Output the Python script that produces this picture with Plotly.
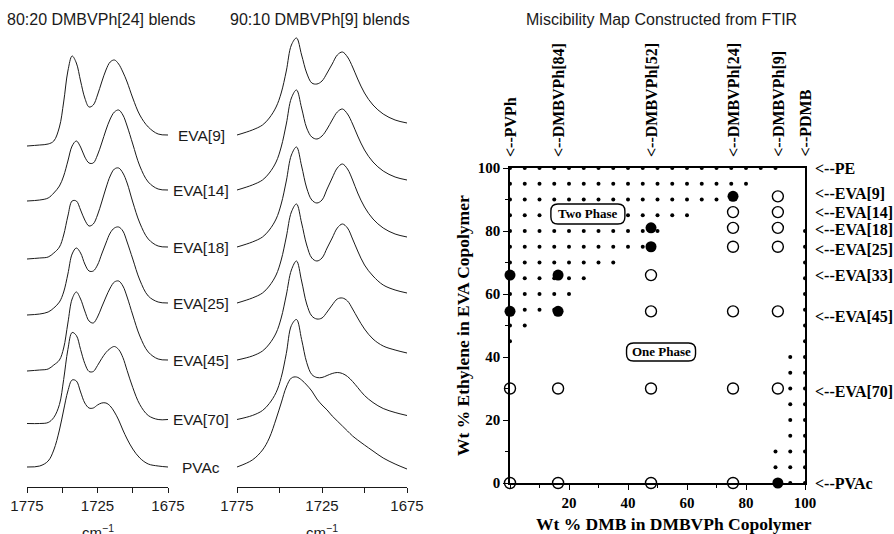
import plotly.graph_objects as go

FIG_W, FIG_H = 894, 534


def px_x(p):
    return p / FIG_W


def px_y(p):
    return 1 - p / FIG_H


# ---------------- FTIR carbonyl-region spectra ----------------
wavenumber = [1775, 1766, 1760, 1756, 1752, 1749, 1746, 1743, 1740, 1737, 1734, 1731, 1728,
              1725, 1722, 1719, 1716, 1713, 1710, 1707, 1704, 1700, 1695, 1689, 1682, 1675]

samples = ["EVA[9]", "EVA[14]", "EVA[18]", "EVA[25]", "EVA[45]", "EVA[70]", "PVAc"]
stack_offset = [3.52, 2.97, 2.40, 1.84, 1.27, 0.675, 0.20]

# 80:20 DMBVPh[24] blends, absorbance x100 above each stacking baseline
b80_eva9 = [-11, -10, -9, -6, 8, 33, 64, 79, 72, 54, 37, 28, 30, 40, 53, 65, 73, 75, 71, 63, 53, 37, 20, 8, 1, 0]
b80_eva14 = [-11, -10, -8, -3, 4, 14, 29, 44, 49, 43, 33, 27, 27, 35, 47, 60, 71, 78, 80, 75, 64, 46, 24, 8, 1, 0]
b80_eva18 = [-12, -11, -10, -6, 0, 12, 31, 46, 46, 37, 27, 21, 23, 32, 45, 59, 71, 78, 79, 74, 64, 45, 24, 8, 1, 0]
b80_eva25 = [-12, -11, -9, -5, 1, 11, 29, 49, 55, 50, 39, 32, 32, 38, 49, 60, 70, 75, 76, 72, 61, 44, 23, 7, 1, 0]
b80_eva45 = [-11, -10, -9, -5, 0, 12, 37, 61, 68, 61, 49, 39, 37, 43, 53, 63, 72, 78, 79, 74, 63, 45, 24, 8, 1, 0]
b80_eva70 = [-4, -4, -3, 2, 15, 40, 70, 87, 84, 70, 56, 48, 48, 54, 61, 67, 71, 73, 70, 62, 49, 32, 15, 4, 0, 0]
b80_pvac = [0, 1, 6, 17, 37, 57, 76, 87, 86, 75, 64, 59, 59, 62, 64, 64, 61, 55, 47, 37, 28, 18, 9, 3, 1, 0]

# 90:10 DMBVPh[9] blends, absorbance x100 above each stacking baseline
b90_eva9 = [0, 5, 10, 17, 28, 42, 64, 90, 97, 80, 62, 52, 51, 54, 62, 71, 80, 83, 78, 68, 56, 42, 30, 21, 15, 12]
b90_eva14 = [0, 5, 10, 17, 28, 43, 66, 92, 100, 82, 62, 53, 51, 54, 61, 70, 78, 81, 76, 66, 54, 40, 28, 19, 13, 10]
b90_eva18 = [0, 5, 10, 17, 28, 43, 66, 92, 100, 81, 59, 47, 44, 47, 58, 69, 79, 83, 78, 67, 54, 40, 28, 19, 13, 10]
b90_eva25 = [0, 5, 10, 17, 28, 43, 66, 91, 99, 80, 58, 45, 42, 45, 55, 65, 75, 79, 75, 64, 52, 38, 27, 18, 13, 10]
b90_eva45 = [0, 4, 9, 16, 27, 42, 65, 90, 99, 79, 56, 44, 41, 42, 48, 55, 61, 62, 59, 51, 42, 31, 21, 14, 10, 7]
b90_eva70 = [0, 4, 9, 16, 27, 42, 66, 94, 100, 80, 57, 45, 42, 42, 44, 46, 47, 46, 43, 38, 32, 24, 17, 11, 7, 4]
b90_pvac = [0, 7, 17, 29, 48, 64, 80, 89, 90, 87, 82, 76, 68, 62, 57, 51, 46, 41, 36, 31, 27, 22, 16, 9, 3, -2]

blends_80 = [b80_eva9, b80_eva14, b80_eva18, b80_eva25, b80_eva45, b80_eva70, b80_pvac]
blends_90 = [b90_eva9, b90_eva14, b90_eva18, b90_eva25, b90_eva45, b90_eva70, b90_pvac]

# ---------------- Miscibility map ----------------
copolymer_names = ["PVPh", "DMBVPh[84]", "DMBVPh[52]", "DMBVPh[24]", "DMBVPh[9]", "PDMB"]
copolymer_dmb = [0, 16.3, 47.8, 75.6, 90.8, 100]

eva_names = ["PE", "EVA[9]", "EVA[14]", "EVA[18]", "EVA[25]", "EVA[33]", "EVA[45]", "EVA[70]", "PVAc"]
eva_ethylene = [100, 91, 86, 81, 75, 66, 54.5, 30, 0]

# blends found miscible (one phase)
one_phase_dmb = [0, 0, 16.3, 16.3, 47.8, 47.8, 47.8, 47.8,
                 75.6, 75.6, 75.6, 75.6, 75.6, 75.6,
                 90.8, 90.8, 90.8, 90.8, 90.8, 90.8]
one_phase_eth = [30, 0, 30, 0, 66, 54.5, 30, 0,
                 86, 81, 75, 54.5, 30, 0,
                 91, 86, 81, 75, 54.5, 30]

# blends found immiscible (two phase)
two_phase_dmb = [0, 0, 16.3, 16.3, 47.8, 47.8, 75.6, 90.8]
two_phase_eth = [66, 54.5, 66, 54.5, 81, 75, 91, 0]

# dotted two-phase region: rows every 5 wt% ethylene, dots from 0 up to a limit
dot_rows_eth = [100, 95, 90, 85, 80, 75, 70, 65, 60, 55, 50, 45]
dot_rows_dmb_max = [90, 80, 70, 60, 50, 45, 35, 25, 20, 15, 5, 0]
# dotted two-phase region near PDMB: columns every 5 wt% DMB
dot_cols_dmb = [90, 95, 100]
dot_cols_eth_min = [5, 0, 0]
dot_cols_eth_max = [10, 40, 80]

dot_x, dot_y = [], []
for eth, xmax in zip(dot_rows_eth, dot_rows_dmb_max):
    for k in range(0, int(xmax) + 1, 5):
        dot_x.append(k)
        dot_y.append(eth)
for dmb, lo, hi in zip(dot_cols_dmb, dot_cols_eth_min, dot_cols_eth_max):
    for k in range(lo, hi + 1, 5):
        dot_x.append(dmb)
        dot_y.append(k)

SANS = "Liberation Sans, Arial, sans-serif"
SERIF = "Liberation Serif, Times New Roman, serif"
INK = "#1a1a1a"

fig = go.Figure()

for vals, off in zip(blends_80, stack_offset):
    fig.add_trace(go.Scatter(
        x=wavenumber, y=[off + v / 100 for v in vals], xaxis="x", yaxis="y",
        mode="lines", line=dict(color=INK, width=1, shape="spline", smoothing=1.0),
        showlegend=False, hoverinfo="skip"))
for vals, off in zip(blends_90, stack_offset):
    fig.add_trace(go.Scatter(
        x=wavenumber, y=[off + v / 100 for v in vals], xaxis="x2", yaxis="y",
        mode="lines", line=dict(color=INK, width=1, shape="spline", smoothing=1.0),
        showlegend=False, hoverinfo="skip"))

fig.add_trace(go.Scatter(
    x=dot_x, y=dot_y, xaxis="x3", yaxis="y3", mode="markers",
    marker=dict(size=4, color="black"), cliponaxis=False,
    showlegend=False, hoverinfo="skip"))
fig.add_trace(go.Scatter(
    x=one_phase_dmb, y=one_phase_eth, xaxis="x3", yaxis="y3", mode="markers",
    marker=dict(size=11, color="white", line=dict(color="black", width=1.4)),
    cliponaxis=False, showlegend=False, name="One phase"))
fig.add_trace(go.Scatter(
    x=two_phase_dmb, y=two_phase_eth, xaxis="x3", yaxis="y3", mode="markers",
    marker=dict(size=11, color="black"),
    cliponaxis=False, showlegend=False, name="Two phase"))

map_font = dict(family=SERIF, size=15, color="black", weight="bold")

# origin label of the DMB axis, set just below-left of the corner like the ethylene zero
fig.add_trace(go.Scatter(
    x=[-5.4], y=[-5.7], xaxis="x3", yaxis="y3", mode="text", text=["0"],
    textposition="middle center", textfont=map_font, cliponaxis=False,
    showlegend=False, hoverinfo="skip"))

spec_axis = dict(
    range=[1775, 1675], tickvals=[1775, 1725, 1675], ticks="outside", ticklen=5,
    tickwidth=1, tickcolor=INK, showline=True, linecolor=INK, linewidth=1,
    minor=dict(tickvals=[1750, 1700], ticks="outside", ticklen=5, tickwidth=1, tickcolor=INK),
    showgrid=False, zeroline=False, tickfont=dict(family=SANS, size=15, color=INK),
    anchor="y")

fig.update_layout(
    width=FIG_W, height=FIG_H,
    margin=dict(l=0, r=0, t=0, b=0, pad=0, autoexpand=False),
    paper_bgcolor="white", plot_bgcolor="white",
    xaxis=dict(domain=[px_x(27), px_x(168)], **spec_axis),
    xaxis2=dict(domain=[px_x(237), px_x(407)], **spec_axis),
    yaxis=dict(domain=[px_y(487), px_y(27)], range=[0, 4.6], visible=False),
    xaxis3=dict(domain=[px_x(510), px_x(805)], range=[0, 100], anchor="y3",
                tickvals=[20, 40, 60, 80, 100], ticks="outside", ticklen=5,
                tickwidth=1.4, tickcolor="black", showline=True, mirror=True,
                linecolor="black", linewidth=1.6, showgrid=False, zeroline=False,
                tickfont=map_font,
                minor=dict(ticks="outside", ticklen=3, tickvals=[0, 10, 30, 50, 70, 90],
                           tickcolor="black")),
    yaxis3=dict(domain=[px_y(483), px_y(168)], range=[0, 100], anchor="x3",
                tickvals=[0, 20, 40, 60, 80, 100], ticks="outside", ticklen=5,
                tickwidth=1.4, tickcolor="black", showline=True, mirror=True,
                linecolor="black", linewidth=1.6, showgrid=False, zeroline=False,
                tickfont=map_font,
                minor=dict(ticks="outside", ticklen=3, dtick=10, tickcolor="black")),
)

ann = []


def text_at(text, x, y, xref="paper", yref="paper", **kw):
    d = dict(text=text, x=x, y=y, xref=xref, yref=yref, showarrow=False,
             xanchor="center", yanchor="middle")
    d.update(kw)
    ann.append(d)


# spectra panel titles
text_at("80:20 DMBVPh[24] blends", px_x(101), px_y(20), font=dict(family=SANS, size=16, color=INK))
text_at("90:10 DMBVPh[9] blends", px_x(320), px_y(20), font=dict(family=SANS, size=16, color=INK))
for name, off in zip(samples, stack_offset):
    text_at(name, px_x(201), off, yref="y", font=dict(family=SANS, size=15.5, color=INK))
for cx in (97.5, 322):
    text_at("cm<sup>\u22121</sup>", px_x(cx), px_y(531), font=dict(family=SANS, size=15, color=INK))

# miscibility map texts
text_at("Miscibility Map Constructed from FTIR", px_x(661), px_y(20),
        font=dict(family=SANS, size=16, color=INK))
text_at("Wt % DMB in DMBVPh Copolymer", px_x(674), px_y(524),
        font=dict(family=SERIF, size=17.5, color="black", weight="bold"))
text_at("Wt % Ethylene in EVA Copolymer", px_x(463), px_y(326), textangle=-90,
        font=dict(family=SERIF, size=17.5, color="black", weight="bold"))
for name, dmb in zip(copolymer_names, copolymer_dmb):
    text_at("&lt;--" + name, dmb, 100, xref="x3", yref="y3", textangle=-90,
            yanchor="bottom", yshift=9,
            font=dict(family=SERIF, size=16, color="black", weight="bold"))

# right-hand EVA labels, with small pixel nudges so neighbours stay legible
label_nudge_px = [0, 3, 0, -2, -3, 0, -5, -3, 0]
for name, eth, nudge in zip(eva_names, eva_ethylene, label_nudge_px):
    text_at("&lt;--" + name, px_x(813), eth, yref="y3", xanchor="left", yshift=nudge,
            font=dict(family=SERIF, size=16, color="black", weight="bold"))

# phase labels in rounded boxes
phase_boxes = [("Two Phase", 26.4, 85.4, 74, 20), ("One Phase", 51.2, 41.6, 69, 18)]
shapes = []
for text, bx, by, bw, bh in phase_boxes:
    r = 7
    hw, hh = bw / 2, bh / 2
    path = (f"M {-hw + r},{-hh} L {hw - r},{-hh} Q {hw},{-hh} {hw},{-hh + r} "
            f"L {hw},{hh - r} Q {hw},{hh} {hw - r},{hh} L {-hw + r},{hh} "
            f"Q {-hw},{hh} {-hw},{hh - r} L {-hw},{-hh + r} Q {-hw},{-hh} {-hw + r},{-hh} Z")
    shapes.append(dict(type="path", xref="x3", yref="y3", xsizemode="pixel",
                       ysizemode="pixel", xanchor=bx, yanchor=by, path=path,
                       fillcolor="white", line=dict(color="black", width=1.4), layer="above"))
    text_at(text, bx, by, xref="x3", yref="y3",
            font=dict(family=SERIF, size=13, color="black", weight="bold"))

fig.update_layout(annotations=ann, shapes=shapes)
fig.write_html("out.html")
